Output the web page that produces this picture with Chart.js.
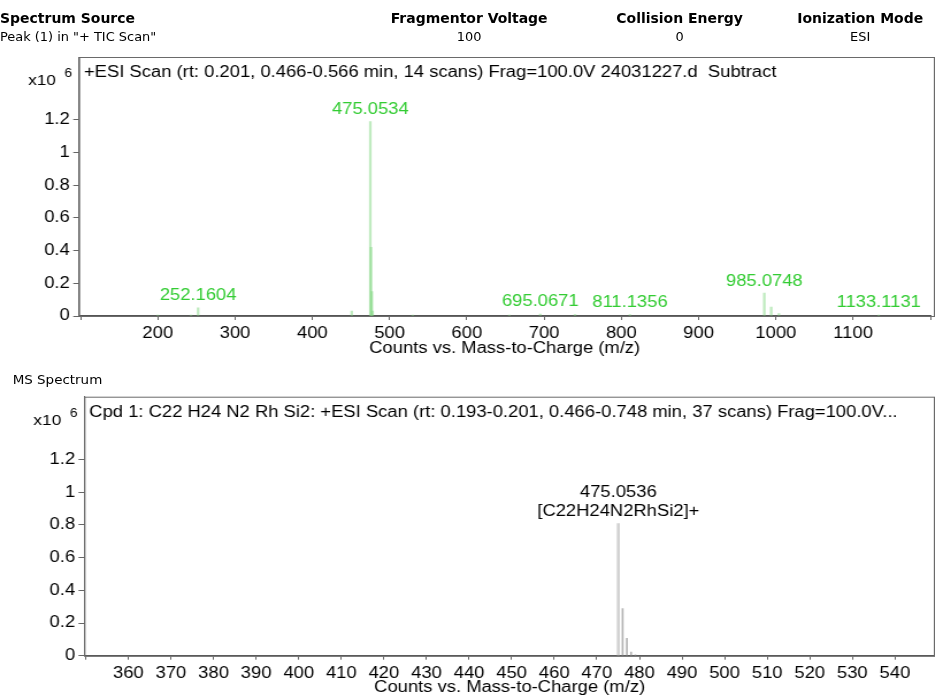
<!DOCTYPE html>
<html>
<head>
<meta charset="utf-8">
<title>MS Spectrum</title>
<script src="https://cdn.jsdelivr.net/npm/chart.js@4.4.1/dist/chart.umd.min.js"></script>
<style>
  body { margin: 0; background: #fff; overflow: hidden; }
  /* the reference text is a bit wide, so the whole page is stretched sideways */
  #stage { position: absolute; left: 0; top: 0; width: 813px; height: 697px;
           transform: scaleX(1.15); transform-origin: 0 0;
           font-family: "DejaVu Sans Condensed", "DejaVu Sans", sans-serif; color: #000; }
  .hd { position: absolute; font-size: 12.5px; line-height: 14px; white-space: nowrap; }
  .b { font-weight: bold; font-size: 13.5px; }
  .c { width: 170px; margin-left: -85px; text-align: center; }
  canvas { position: absolute; left: 0; }
</style>
</head>
<body>
<div id="stage">
  <div class="hd b" style="left:0;top:11px">Spectrum Source</div>
  <div class="hd" style="left:0;top:30px">Peak (1) in "+ TIC Scan"</div>
  <div class="hd b c" style="left:408px;top:11px">Fragmentor Voltage</div>
  <div class="hd c" style="left:408px;top:30px">100</div>
  <div class="hd b c" style="left:591px;top:11px">Collision Energy</div>
  <div class="hd c" style="left:591px;top:30px">0</div>
  <div class="hd b c" style="left:748px;top:11px">Ionization Mode</div>
  <div class="hd c" style="left:748px;top:30px">ESI</div>
  <div class="hd" style="left:11px;top:373px;font-size:13px">MS Spectrum</div>

  <canvas id="topChart" width="813" height="362" style="top:0"></canvas>
  <canvas id="msChart" width="813" height="335" style="top:362px"></canvas>
</div>

<script>
// ---- top panel: TIC peak spectrum (counts x10^6)
const topMz = [200, 243, 252.1604, 451, 475.0534, 476.05, 477.05, 478.05, 530, 655, 695.0671, 740, 811.1356, 985.0748, 994, 1004, 1133.1131];
const topCounts = [0.005, 0.006, 0.05, 0.03, 1.19, 0.42, 0.15, 0.03, 0.005, 0.006, 0.012, 0.008, 0.008, 0.14, 0.055, 0.015, 0.006];
const topLabelMz = [252.1604, 475.0534, 695.0671, 811.1356, 985.0748, 1133.1131];
const topXTicks = [100, 200, 300, 400, 500, 600, 700, 800, 900, 1000, 1100, 1200];
const topXLabels = [200, 300, 400, 500, 600, 700, 800, 900, 1000, 1100];
const topTitle = '+ESI Scan (rt: 0.201, 0.466-0.566 min, 14 scans) Frag=100.0V 24031227.d  Subtract';

// ---- bottom panel: compound spectrum
const msMz = [475.0536, 476.0549, 477.0541, 478.0532, 479.0525];
const msCounts = [0.808, 0.289, 0.106, 0.022, 0.005];
const msLabelLines = ['475.0536', '[C22H24N2RhSi2]+'];
const msXTicks = [350, 360, 370, 380, 390, 400, 410, 420, 430, 440, 450, 460, 470, 480, 490, 500, 510, 520, 530, 540];
const msXLabels = [360, 370, 380, 390, 400, 410, 420, 430, 440, 450, 460, 470, 480, 490, 500, 510, 520, 530, 540];
const msTitle = 'Cpd 1: C22 H24 N2 Rh Si2: +ESI Scan (rt: 0.193-0.201, 0.466-0.748 min, 37 scans) Frag=100.0V...';

const yTicks = [0, 0.2, 0.4, 0.6, 0.8, 1, 1.2];

Chart.defaults.font.family = '"Liberation Sans", Arial, sans-serif';
Chart.defaults.font.size = 16;
Chart.defaults.color = '#000';

// frame, in-plot title, "x10 6" and peak annotations
const specPlugin = {
    id: 'spec',
    afterDatasetsDraw(chart, args, opts) {
        const ctx = chart.ctx;
        const xs = chart.scales.x, ys = chart.scales.y;
        ctx.save();
        ctx.font = '16px "Liberation Sans", Arial, sans-serif';
        ctx.textAlign = 'center';
        ctx.textBaseline = 'middle';
        ctx.fillStyle = opts.labelColor;
        opts.labels.forEach(lb => {
            const px = xs.getPixelForValue(lb.x);
            const py = ys.getPixelForValue(lb.y) - 12;
            lb.lines.forEach((t, i) => {
                ctx.fillText(t, px, py - (lb.lines.length - 1 - i) * 19);
            });
        });
        ctx.restore();
    },
    afterDraw(chart, args, opts) {
        const ctx = chart.ctx;
        const a = chart.chartArea;
        ctx.save();
        ctx.strokeStyle = '#6a6a6a';
        ctx.lineWidth = 1;
        // right edge of the frame sits at the canvas edge like the reference
        ctx.strokeRect(a.left + 0.5, a.top + 0.5, chart.width - 1 - a.left, a.bottom - a.top);

        ctx.fillStyle = '#000';
        ctx.textBaseline = 'middle';
        ctx.textAlign = 'left';
        ctx.font = '16px "Liberation Sans", Arial, sans-serif';
        ctx.fillText(opts.title, a.left + 4.3, a.top + 16);

        ctx.textAlign = 'right';
        ctx.font = '15px "Liberation Sans", Arial, sans-serif';
        ctx.fillText('x10', a.left - 20, a.top + 24);
        ctx.font = '12px "Liberation Sans", Arial, sans-serif';
        ctx.fillText('6', a.left - 6, a.top + 17);
        ctx.restore();
    }
};

function makeOptions(cfg) {
    return {
        responsive: false,
        animation: false,
        devicePixelRatio: 1,
        layout: { padding: { top: cfg.padTop, right: 0, left: 0, bottom: 0 } },
        plugins: {
            legend: { display: false },
            tooltip: { enabled: false },
            spec: { title: cfg.title, labels: cfg.labels, labelColor: cfg.labelColor }
        },
        scales: {
            x: {
                type: 'linear',
                min: cfg.xMin,
                max: cfg.xMax,
                offset: false,
                afterBuildTicks: s => { s.ticks = cfg.xTicks.map(v => ({ value: v })); },
                afterFit: s => { s.height = cfg.xHeight; },
                ticks: {
                    autoSkip: false,
                    maxRotation: 0,
                    padding: 4,
                    callback: v => cfg.xLabels.includes(v) ? String(v) : ''
                },
                grid: { drawOnChartArea: false, offset: false, tickLength: 4, color: '#666' },
                border: { color: '#555', width: 1.5 },
                title: {
                    display: true,
                    text: 'Counts vs. Mass-to-Charge (m/z)',
                    font: { size: 16, lineHeight: 1 },
                    padding: { top: 0, bottom: cfg.titlePad }
                }
            },
            y: {
                min: 0,
                max: 1.585,
                afterBuildTicks: s => { s.ticks = yTicks.map(v => ({ value: v })); },
                afterFit: s => { s.width = cfg.yWidth; },
                ticks: { padding: 3, callback: v => String(v) },
                grid: { drawOnChartArea: false, tickLength: 5, color: '#666' },
                border: { color: '#666', width: 1 }
            }
        }
    };
}

new Chart(document.getElementById('topChart'), {
    type: 'bar',
    data: {
        datasets: [{
            data: topMz.map((m, i) => ({ x: m, y: topCounts[i] })),
            backgroundColor: 'rgba(130, 215, 130, 0.5)',
            barThickness: 1.6,
            grouped: false
        }]
    },
    options: makeOptions({
        padTop: 57, xHeight: 46, yWidth: 68.7, titlePad: 5,
        xMin: 98, xMax: 1200, xTicks: topXTicks, xLabels: topXLabels,
        title: topTitle,
        labelColor: '#33cc33',
        labels: topLabelMz.map(m => ({ x: m, y: topCounts[topMz.indexOf(m)], lines: [m.toFixed(4)] }))
    }),
    plugins: [specPlugin]
});

new Chart(document.getElementById('msChart'), {
    type: 'bar',
    data: {
        datasets: [{
            data: [{ x: msMz[0], y: msCounts[0] }],
            backgroundColor: '#d2d2d2',
            barThickness: 2,
            grouped: false
        }, {
            data: msMz.slice(1).map((m, i) => ({ x: m, y: msCounts[i + 1] })),
            backgroundColor: '#b4b4b4',
            barThickness: 1,
            grouped: false
        }]
    },
    options: makeOptions({
        padTop: 34.7, xHeight: 41.3, yWidth: 73.3, titlePad: 1,
        xMin: 349.65, xMax: 549.4, xTicks: msXTicks, xLabels: msXLabels,
        title: msTitle,
        labelColor: '#000',
        labels: [{ x: msMz[0], y: msCounts[0], lines: msLabelLines }]
    }),
    plugins: [specPlugin]
});
</script>
</body>
</html>
